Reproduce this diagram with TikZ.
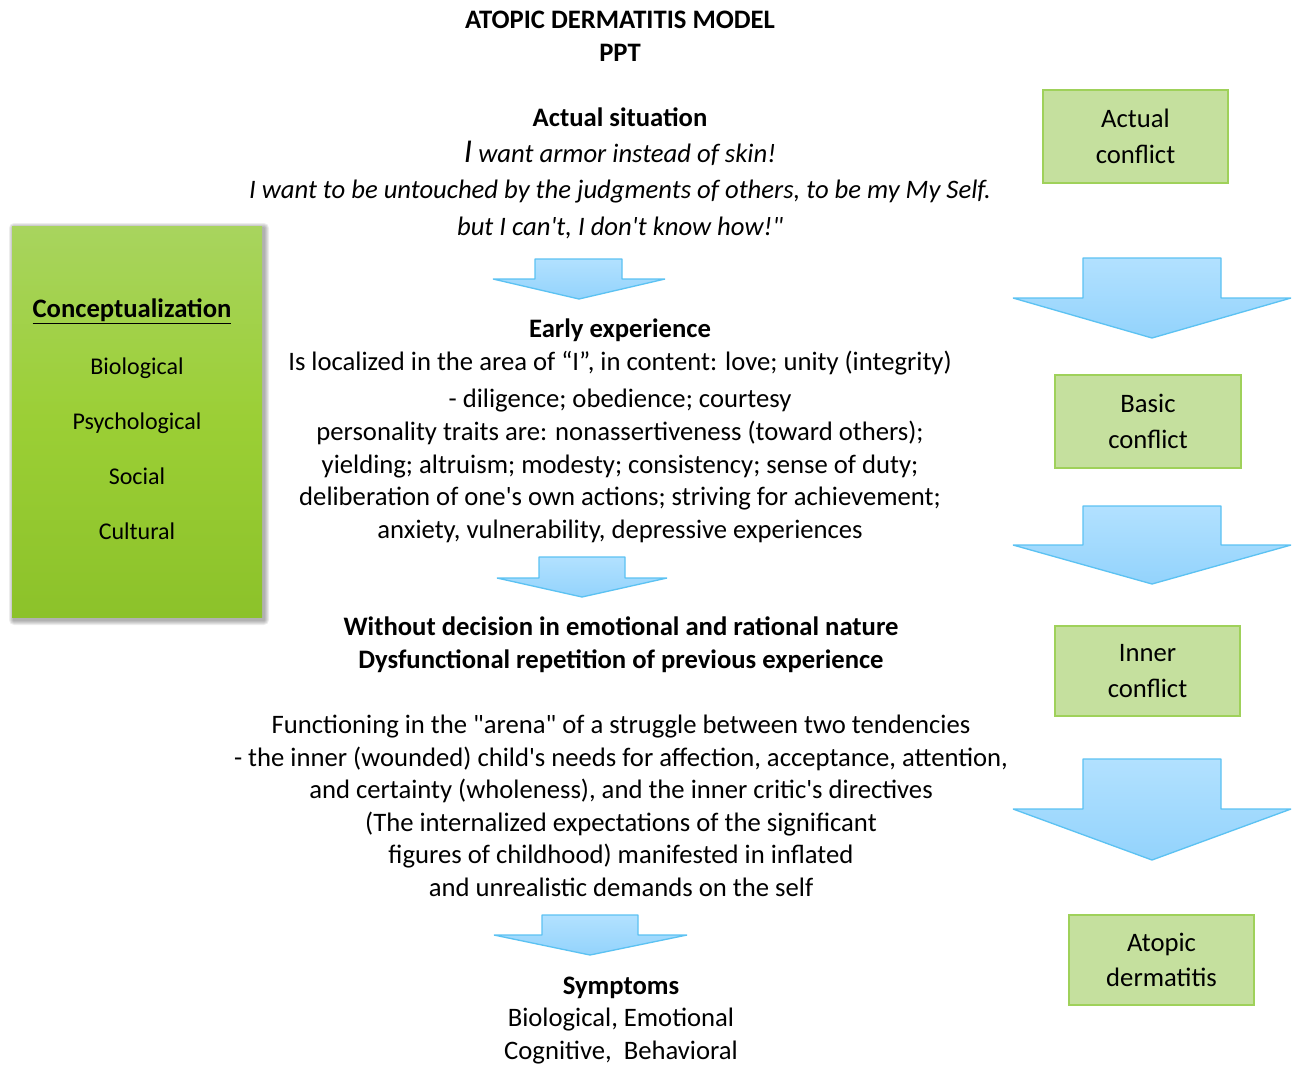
\documentclass[tikz,border=0pt]{standalone}
\usepackage{fontspec}
\setmainfont{Carlito}[Ligatures=TeXOff]
\definecolor{arrtop}{HTML}{B2E1FF}
\definecolor{arrbot}{HTML}{93D3FC}
\definecolor{arrline}{HTML}{5CC2F2}
\definecolor{boxfill}{HTML}{C5E09E}
\definecolor{boxline}{HTML}{9FD15A}
\definecolor{lefttop}{HTML}{A8D45E}
\definecolor{leftmid}{HTML}{9BCF35}
\definecolor{leftbot}{HTML}{8CC22A}
\tikzset{
  txt/.style={anchor=base, inner sep=0pt, font=\fontsize{20}{24}\selectfont},
  btxt/.style={txt, font=\fontsize{20}{24}\selectfont\bfseries},
  itxt/.style={txt, font=\fontsize{20}{24}\selectfont\itshape},
  ltxt/.style={anchor=base, inner sep=0pt, font=\fontsize{18}{22}\selectfont},
  gbox/.style={draw=boxline, line width=1pt, fill=boxfill, align=center,
    font=\fontsize{20}{26.5}\selectfont, inner sep=0pt},
  barrow/.style={draw=arrline, line width=1pt, top color=arrtop, bottom color=arrbot, line join=bevel},
  shadowlayer/.style={fill=black, fill opacity=0.07, draw=none},
}
\newcommand\dnarrow[9]{% name, shaft l, shaft r, wing l, wing r, top, shoulder, tipx, tipy
  \path[barrow] (#2,#6) -- (#3,#6) -- (#3,#7) -- (#5,#7) -- (#8,#9) -- (#4,#7) -- (#2,#7) -- cycle;
  \coordinate (#1) at (#8,#9);}
\begin{document}
\begin{tikzpicture}[x=0.75pt,y=-0.75pt]
\useasboundingbox (0,0) rectangle (1298,1068);
% title
\node[btxt] (t1) at (620,28) {ATOPIC DERMATITIS MODEL};
\node[btxt] (t2) at (620,61) {PPT};
% actual situation
\node[btxt] (as) at (620,126) {Actual situation};
\node[itxt] (as1) at (620,162) {{\fontsize{25}{24}\selectfont I} want armor instead of skin!};
\node[itxt] (as2) at (620,198) {I want to be untouched by the judgments of others, to be my My Self.};
\node[itxt] (as3) at (620,235) {but I can't, I don't know how!"};
\dnarrow{a1}{535}{622}{493}{665}{259}{279}{579}{299}
% early experience
\node[btxt] (ee) at (620,337) {Early experience};
\node[txt] (ee1) at (620,370) {Is localized in the area of “I”, in content: love; unity (integrity)};
\node[txt] (ee2) at (620,407) {- diligence; obedience; courtesy};
\node[txt] (ee3) at (620,440) {personality traits are: nonassertiveness (toward others);};
\node[txt] (ee4) at (620,473) {yielding; altruism; modesty; consistency; sense of duty;};
\node[txt] (ee5) at (620,505) {deliberation of one's own actions; striving for achievement;};
\node[txt] (ee6) at (620,538) {anxiety, vulnerability, depressive experiences};
\dnarrow{a2}{539}{625}{497}{667}{557}{578}{582}{597}
% without decision
\node[btxt] (wd1) at (621,635) {Without decision in emotional and rational nature};
\node[btxt] (wd2) at (621,668) {Dysfunctional repetition of previous experience};
\node[txt] (f1) at (621,733) {Functioning in the "arena" of a struggle between two tendencies};
\node[txt] (f2) at (621,766) {- the inner (wounded) child's needs for affection, acceptance, attention,};
\node[txt] (f3) at (621,798) {and certainty (wholeness), and the inner critic's directives};
\node[txt] (f4) at (621,831) {(The internalized expectations of the significant};
\node[txt] (f5) at (621,863) {figures of childhood) manifested in inflated};
\node[txt] (f6) at (621,896) {and unrealistic demands on the self};
\dnarrow{a3}{542}{638}{494}{687}{915}{935}{590}{955}
% symptoms
\node[btxt] (s0) at (621,994) {Symptoms};
\node[txt] (s1) at (621,1026) {Biological, Emotional};
\node[txt] (s2) at (621,1059) {Cognitive,\ \ Behavioral};
% left box with soft shadow
\foreach \d in {1,2,3,4,5} {
  \path[shadowlayer, rounded corners=\d*0.75pt] (12+2-\d,226+2-\d) rectangle (262+2+\d,617+3+\d);
}
\path[draw=none, top color=lefttop, bottom color=leftbot, middle color=leftmid]
  (12,226) rectangle (262,617);
\node[btxt] (c0) at (132,317) {\underline{Conceptualization}};
\node[ltxt] (c1) at (137,374) {Biological};
\node[ltxt] (c2) at (137,429) {Psychological};
\node[ltxt] (c3) at (137,484) {Social};
\node[ltxt] (c4) at (137,539) {Cultural};
% right column
\node[gbox, minimum width=185*0.75pt, minimum height=93*0.75pt] (b1) at (1135.5,136.5) {Actual\\conflict};
\dnarrow{r1}{1083}{1221}{1013}{1291}{258}{298}{1152}{338}
\node[gbox, minimum width=186*0.75pt, minimum height=93*0.75pt] (b2) at (1148,421.5) {Basic\\conflict};
\dnarrow{r2}{1083}{1221}{1013}{1291}{506}{545}{1152}{584}
\node[gbox, minimum width=185*0.75pt, minimum height=90*0.75pt] (b3) at (1147.5,671) {Inner\\conflict};
\dnarrow{r3}{1083}{1221}{1013}{1291}{759}{809}{1152}{860}
\node[gbox, minimum width=185*0.75pt, minimum height=90*0.75pt] (b4) at (1161.5,960) {Atopic\\dermatitis};
\end{tikzpicture}
\end{document}
